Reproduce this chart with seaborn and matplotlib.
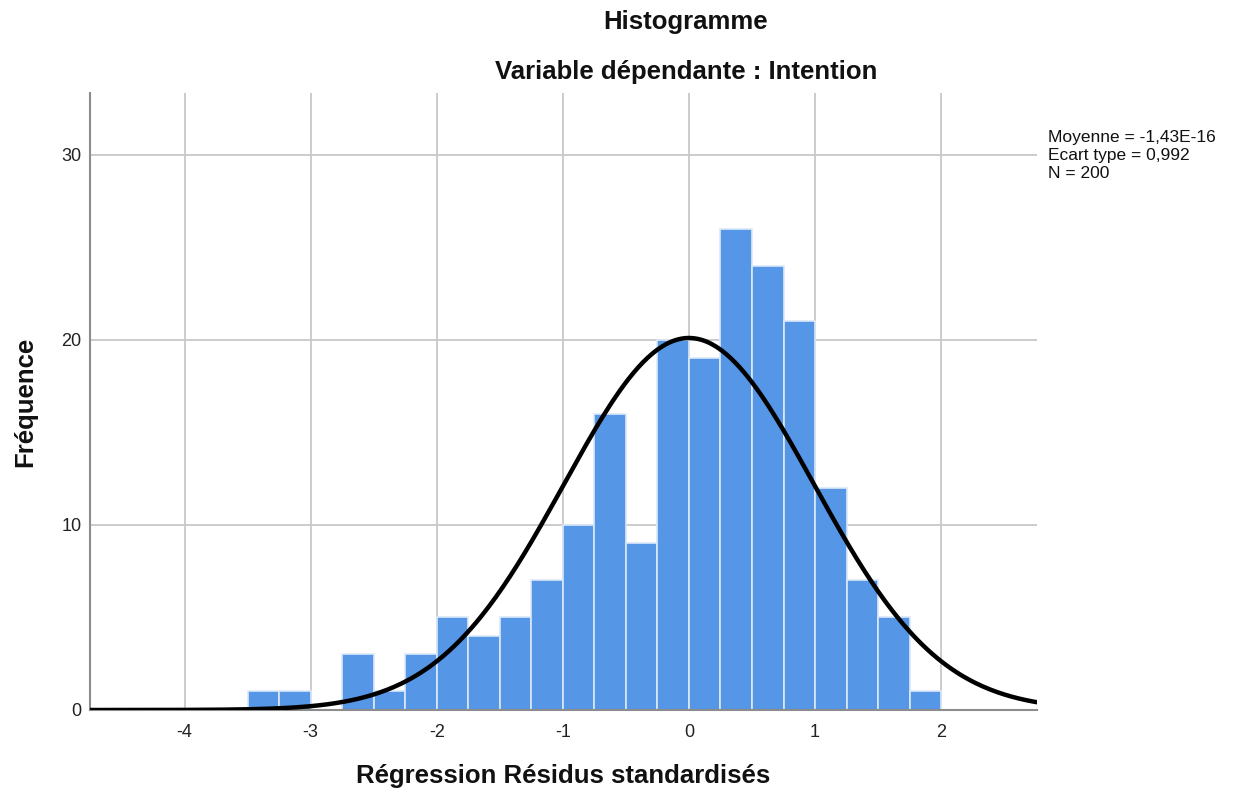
import numpy as np
import pandas as pd
import matplotlib
matplotlib.use("Agg")
import matplotlib.pyplot as plt
import seaborn as sns

# Data
bin_edges = [-3.5 + 0.25 * i for i in range(23)]
counts = [1, 1, 0, 3, 1, 3, 5, 4, 5, 7, 10, 16, 9, 20, 19, 26, 24, 21, 12, 7, 5, 1]
mean_val = -1.43e-16
std_val = 0.992
n_total = 200
x_ticks = [-4, -3, -2, -1, 0, 1, 2]
y_ticks = [0, 10, 20, 30]

sns.set_theme(style="white")
plt.rcParams['font.family'] = ['Liberation Sans', 'DejaVu Sans']

fig = plt.figure(figsize=(12.35, 7.92), dpi=100)
ax = fig.add_axes([90/1235, 1-710/792, (1037-90)/1235, (710-93)/792])

centers = [(bin_edges[i] + bin_edges[i+1]) / 2 for i in range(len(counts))]
df = pd.DataFrame({"x": centers, "w": counts})
sns.histplot(data=df, x="x", weights="w", bins=bin_edges, ax=ax,
             color="#5596E6", alpha=1.0, edgecolor="#DCE8F8", linewidth=1.2, zorder=2)

width = bin_edges[1] - bin_edges[0]
xs = np.linspace(-4.75, 2.76, 400)
ys = n_total * width * np.exp(-0.5 * ((xs - mean_val) / std_val) ** 2) / (std_val * np.sqrt(2 * np.pi))
sns.lineplot(x=xs, y=ys, ax=ax, color="black", linewidth=3.2, zorder=3)

ax.set_xlim(-4.75, 2.76)
ax.set_ylim(0, 33.35)
ax.set_xticks(x_ticks)
ax.set_xticklabels([str(t) for t in x_ticks])
ax.set_yticks(y_ticks)
ax.set_yticklabels([str(t) for t in y_ticks])
ax.tick_params(axis='both', length=0, labelsize=13, colors="#222222")
ax.tick_params(axis='x', pad=10)
ax.tick_params(axis='y', pad=6)
ax.grid(True, color="#C8C8C8", linewidth=1.3, zorder=0)
ax.set_axisbelow(True)
for s in ["top", "right"]:
    ax.spines[s].set_visible(False)
for s in ["left", "bottom"]:
    ax.spines[s].set_color("#8C8C8C")
    ax.spines[s].set_linewidth(1.5)

ax.set_xlabel("")
ax.set_ylabel("")
fig.text(563/1235, 1-776/792, "Régression Résidus standardisés", ha="center", va="center",
         fontsize=18.5, fontweight="bold", color="#111111")
fig.text(25/1235, 1-402/792, "Fréquence", ha="center", va="center", rotation=90,
         fontsize=18.5, fontweight="bold", color="#111111")

fig.text(686/1235, 1-22/792, "Histogramme", ha="center", va="center", fontsize=18.5,
         fontweight="bold", color="#111111")
fig.text(686/1235, 1-72/792, "Variable dépendante : Intention", ha="center", va="center",
         fontsize=18.5, fontweight="bold", color="#111111")
fig.text(1048/1235, 1-130/792,
         "Moyenne = -1,43E-16\nEcart type = 0,992\nN = 200",
         ha="left", va="top", fontsize=12.5, linespacing=1.24, color="#111111")

fig.savefig("out.png", dpi=100)
